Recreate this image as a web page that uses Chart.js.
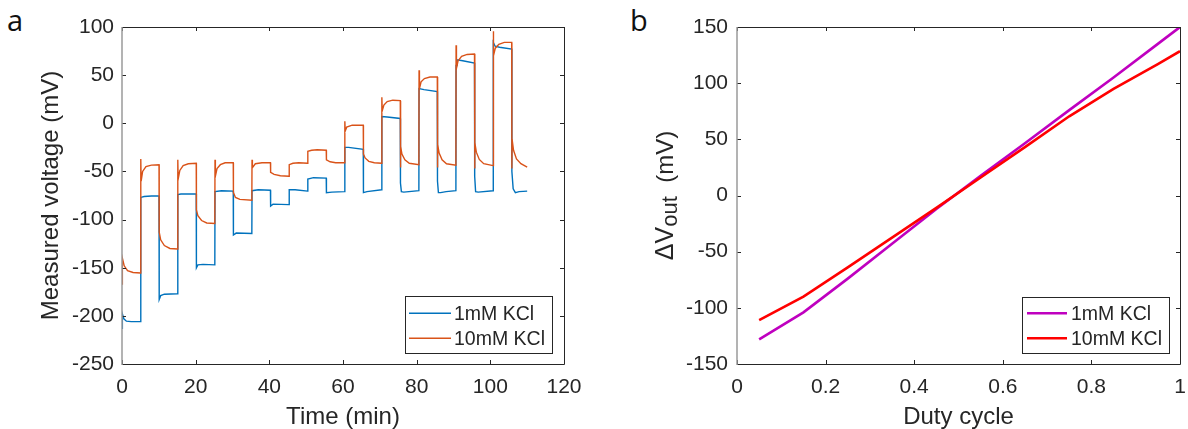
<!DOCTYPE html>
<html>
<head>
<meta charset="utf-8">
<script src="https://cdn.jsdelivr.net/npm/chart.js@4.4.0/dist/chart.umd.min.js"></script>
<style>
  body { margin: 0; background: #fff; width: 1188px; height: 429px; overflow: hidden; position: relative; }
  canvas { position: absolute; top: 0; }
  #voltChart { left: 0; }
  #dutyChart { left: 594px; }
  .panel { position: absolute; top: 5px; font-family: "Open Sans", sans-serif; font-size: 29px; line-height: 1; color: #111; }
</style>
</head>
<body>
<div class="panel" style="left:7px">a</div>
<div class="panel" style="left:630px">b</div>
<canvas id="voltChart" width="594" height="429"></canvas>
<canvas id="dutyChart" width="594" height="429"></canvas>
<script>
// ---- data ----
const seriesNames = ['1mM KCl', '10mM KCl'];

const timeTicks = [0, 20, 40, 60, 80, 100, 120];
const voltTicks = [-250, -200, -150, -100, -50, 0, 50, 100];
const dutyTicks = [0, 0.2, 0.4, 0.6, 0.8, 1];
const deltaTicks = [-150, -100, -50, 0, 50, 100, 150];

// panel a, 1mM KCl trace (min, mV)
const time1mM = [0, 0.1, 0.5, 1.2, 2.5, 5.05,
  5.1, 6, 8, 10.05,
  10.1, 10.5, 11.5, 15.1,
  15.15, 16, 20.15,
  20.2, 20.6, 22, 25.2,
  25.25, 27, 30.2,
  30.25, 31, 35.25,
  35.3, 37, 40.3,
  40.35, 41, 45.35,
  45.4, 47, 50.4,
  50.45, 52, 55.45,
  55.5, 57, 60.45,
  60.5, 61.5, 65.5,
  65.55, 66.5, 70.5,
  70.55, 72, 75.55,
  75.6, 75.85, 76.5, 80.6,
  80.65, 82, 85.6,
  85.65, 85.9, 86.5, 88, 90.65,
  90.7, 90.95, 92.5, 95.7,
  95.75, 96, 96.7, 100.75,
  100.8, 101.3, 102.5, 105.8,
  105.85, 106.2, 106.8, 107.8, 110];
const volt1mM = [-213, -198, -203, -205.5, -206, -206,
  -77, -76, -75.5, -75.5,
  -183, -179, -177.5, -177,
  -74, -73.5, -73.5,
  -150, -147, -146.5, -147,
  -71, -70, -70.5,
  -116, -114, -114.5,
  -70, -69, -69.5,
  -86, -84, -84.5,
  -69, -69, -70.5,
  -58, -56.5, -57,
  -72, -71.5, -71,
  -25, -25, -27,
  -72, -71, -69,
  7, 6.5, 5,
  -62, -71, -71.5, -70,
  36, 35, 33,
  -60, -72, -72, -71, -70,
  60, 66, 65, 62.5,
  -55, -71, -71.5, -70,
  84, 80, 79, 77,
  -50, -68, -72, -71, -70.5];

// panel a, 10mM KCl trace (min, mV)
const time10mM = [0, 0.1, 0.6, 1.5, 3, 5.05,
  5.1, 5.2, 5.6, 6.5, 8, 10.05,
  10.1, 10.5, 11.5, 13, 15.1,
  15.15, 15.25, 15.7, 16.6, 18, 20.15,
  20.2, 20.6, 21.6, 23, 25.2,
  25.25, 25.35, 25.8, 26.7, 28, 30.2,
  30.25, 30.8, 32, 35.25,
  35.3, 35.4, 36.2, 38, 40.3,
  40.35, 41.3, 43, 45.35,
  45.4, 46.4, 48, 50.4,
  50.45, 51.5, 53, 55.45,
  55.5, 56.5, 58, 60.45,
  60.5, 60.6, 61, 62.5, 65.5,
  65.55, 66, 67, 68.5, 70.5,
  70.55, 70.65, 71.1, 72, 73.5, 75.55,
  75.6, 75.67, 76, 76.8, 78, 80.6,
  80.65, 80.75, 81.2, 82.1, 83.6, 85.6,
  85.65, 85.72, 86.1, 86.9, 88.1, 90.65,
  90.7, 90.8, 91.25, 92.2, 93.7, 95.7,
  95.75, 95.82, 96.2, 97, 98.2, 100.75,
  100.8, 100.9, 101.35, 102.3, 103.8, 105.8,
  105.85, 105.92, 106.3, 107.1, 108.3, 110];
const volt10mM = [-167, -140, -148, -153, -155, -155.5,
  -37, -60, -50, -45, -43.5, -43,
  -113, -121, -127, -130, -130.5,
  -38, -58, -49, -44, -42, -41.5,
  -90, -96, -101, -103.5, -104,
  -38, -55, -47, -43, -41, -41,
  -72, -77, -79, -80,
  -38, -46, -42, -41, -41,
  -51, -53, -54.5, -55,
  -43, -41.5, -41, -41.5,
  -29, -28, -27.5, -28,
  -38, -40, -41, -41,
  2, -8, -4, -2, -2,
  -32, -36, -39.5, -41, -41.5,
  27, 13, 19, 22.5, 24, 23.5,
  -46, -24, -32, -38, -41.5, -43,
  55, 36, 43, 46.5, 48, 48,
  -46, -22, -31, -38, -42, -43.5,
  81, 57, 65, 69.5, 71.5, 72,
  -47, -20, -30, -37.5, -42, -44,
  95.5, 70, 78, 82, 84, 84,
  -47, -17, -28, -37, -42, -45.5];

// panel b
const dutyCycle = [0.05, 0.15, 0.25, 0.35, 0.45, 0.55, 0.65, 0.75, 0.85, 0.95, 1];
const delta1mM = [-128, -104, -74, -43, -12, 17.5, 46.5, 76, 105, 135, 150];
const delta10mM = [-111, -90, -64, -37.5, -11, 16, 43, 70.5, 95, 117, 128.5];

// ---- drawing ----
const axisColor = '#262626';
Chart.defaults.font.family = '"Liberation Sans", Arial, sans-serif';
Chart.defaults.color = axisColor;

const toPoints = (xs, ys) => xs.map((x, i) => ({ x: x, y: ys[i] }));

// matlab style box with inward ticks
const boxPlugin = {
  id: 'box',
  afterDatasetsDraw(chart) {
    const { ctx, chartArea: a, scales: { x, y } } = chart;
    ctx.save();
    ctx.strokeStyle = axisColor;
    ctx.lineWidth = 1;
    ctx.beginPath();
    x.ticks.forEach(t => {
      const px = Math.round(x.getPixelForValue(t.value)) + 0.5;
      ctx.moveTo(px, a.bottom); ctx.lineTo(px, a.bottom - 4);
      ctx.moveTo(px, a.top); ctx.lineTo(px, a.top + 4);
    });
    y.ticks.forEach(t => {
      const py = Math.round(y.getPixelForValue(t.value)) + 0.5;
      ctx.moveTo(a.left, py); ctx.lineTo(a.left + 4, py);
      ctx.moveTo(a.right, py); ctx.lineTo(a.right - 4, py);
    });
    ctx.moveTo(a.left, a.top + 0.5); ctx.lineTo(a.right + 0.5, a.top + 0.5);
    ctx.lineTo(a.right + 0.5, a.bottom + 0.5); ctx.lineTo(a.left, a.bottom + 0.5);
    ctx.stroke();
    ctx.strokeStyle = '#9a9a9a';
    ctx.lineWidth = 1.5;
    ctx.beginPath();
    ctx.moveTo(a.left, a.top); ctx.lineTo(a.left, a.bottom + 1);
    ctx.stroke();
    ctx.restore();
  }
};

// legend box inside the axes
const legendPlugin = {
  id: 'boxLegend',
  afterDraw(chart) {
    const o = chart.options.plugins.boxLegend;
    const ctx = chart.ctx;
    ctx.save();
    ctx.fillStyle = '#fff';
    ctx.fillRect(o.x, o.y, o.w, o.h);
    ctx.strokeStyle = axisColor;
    ctx.lineWidth = 1;
    ctx.strokeRect(o.x + 0.5, o.y + 0.5, o.w, o.h);
    ctx.font = '19.5px "Liberation Sans", Arial, sans-serif';
    ctx.textBaseline = 'middle';
    chart.data.datasets.forEach((ds, i) => {
      const yy = o.y + o.rows[i];
      ctx.strokeStyle = ds.borderColor;
      ctx.lineWidth = ds.borderWidth;
      ctx.beginPath();
      ctx.moveTo(o.x + o.l0, yy); ctx.lineTo(o.x + o.l1, yy);
      ctx.stroke();
      ctx.fillStyle = axisColor;
      ctx.fillText(ds.label, o.x + o.tx, yy + 1);
    });
    ctx.restore();
  }
};

// y title with subscript for panel b
const deltaTitle = {
  id: 'deltaTitle',
  afterDraw(chart) {
    const { ctx, chartArea: a } = chart;
    const parts = [['\u0394', 25, 0], ['V', 25, 0], ['out', 22, 4], ['  (mV)', 24, 0]];
    ctx.save();
    let total = 0;
    parts.forEach(p => {
      ctx.font = p[1] + 'px "Liberation Sans", Arial, sans-serif';
      p.push(ctx.measureText(p[0]).width);
      total += p[3];
    });
    ctx.translate(79, (a.top + a.bottom) / 2);
    ctx.rotate(-Math.PI / 2);
    ctx.fillStyle = axisColor;
    ctx.textBaseline = 'alphabetic';
    let cx = -total / 2;
    parts.forEach(p => {
      ctx.font = p[1] + 'px "Liberation Sans", Arial, sans-serif';
      ctx.fillText(p[0], cx, p[2]);
      cx += p[3];
    });
    ctx.restore();
  }
};

function axis(min, max, tickList, pad, opts) {
  return Object.assign({
    type: 'linear',
    min: min,
    max: max,
    afterBuildTicks: s => { s.ticks = tickList.map(v => ({ value: v })); },
    grid: { display: false, drawTicks: false },
    border: { display: false },
    ticks: { color: axisColor, font: { size: 21 }, padding: pad, autoSkip: false, maxRotation: 0, callback: v => String(v) }
  }, opts);
}

// fixed axis sizes, no extra room reserved for overhanging labels
const fixX = s => { s.height = 65; s.paddingLeft = 0; s.paddingRight = 0; };
const fixY = w => s => { s.width = w; s.paddingTop = 0; s.paddingBottom = 0; };

new Chart(document.getElementById('voltChart'), {
  type: 'line',
  data: {
    datasets: [
      { label: seriesNames[0], data: toPoints(time1mM, volt1mM), borderColor: '#0072BD', borderWidth: 1.4, pointRadius: 0, order: 1 },
      { label: seriesNames[1], data: toPoints(time10mM, volt10mM), borderColor: '#D95319', borderWidth: 1.4, pointRadius: 0, order: 0 }
    ]
  },
  options: {
    responsive: false,
    animation: false,
    layout: { padding: { left: 0, top: 27, right: 30, bottom: 0 } },
    scales: {
      x: axis(0, 120, timeTicks, 11, {
        afterFit: fixX,
        title: { display: true, text: 'Time (min)', color: axisColor, font: { size: 24, lineHeight: 1 }, padding: { top: 0, bottom: 0 } }
      }),
      y: axis(-250, 100, voltTicks, 8, {
        afterFit: fixY(122),
        title: { display: true, text: 'Measured voltage (mV)', color: axisColor, font: { size: 24, lineHeight: 1 }, padding: { top: 39.6, bottom: 0 } }
      })
    },
    plugins: {
      legend: { display: false },
      tooltip: { enabled: false },
      boxLegend: { x: 405, y: 296, w: 147, h: 57, l0: 4, l1: 46, tx: 49, rows: [17.3, 42.3] }
    }
  },
  plugins: [boxPlugin, legendPlugin]
});

new Chart(document.getElementById('dutyChart'), {
  type: 'line',
  data: {
    datasets: [
      { label: seriesNames[0], data: toPoints(dutyCycle, delta1mM), borderColor: '#BF00BF', borderWidth: 2.6, pointRadius: 0, order: 1 },
      { label: seriesNames[1], data: toPoints(dutyCycle, delta10mM), borderColor: '#FF0000', borderWidth: 2.6, pointRadius: 0, order: 0 }
    ]
  },
  options: {
    responsive: false,
    animation: false,
    layout: { padding: { left: 0, top: 27, right: 8, bottom: 0 } },
    scales: {
      x: axis(0, 1, dutyTicks, 11, {
        afterFit: fixX,
        title: { display: true, text: 'Duty cycle', color: axisColor, font: { size: 24, lineHeight: 1 }, padding: { top: 0, bottom: 0 } }
      }),
      y: axis(-150, 150, deltaTicks, 9, {
        afterFit: fixY(143)
      })
    },
    plugins: {
      legend: { display: false },
      tooltip: { enabled: false },
      boxLegend: { x: 428, y: 297, w: 147, h: 56, l0: 5, l1: 45, tx: 49, rows: [16.3, 41.3] }
    }
  },
  plugins: [boxPlugin, legendPlugin, deltaTitle]
});
</script>
</body>
</html>
